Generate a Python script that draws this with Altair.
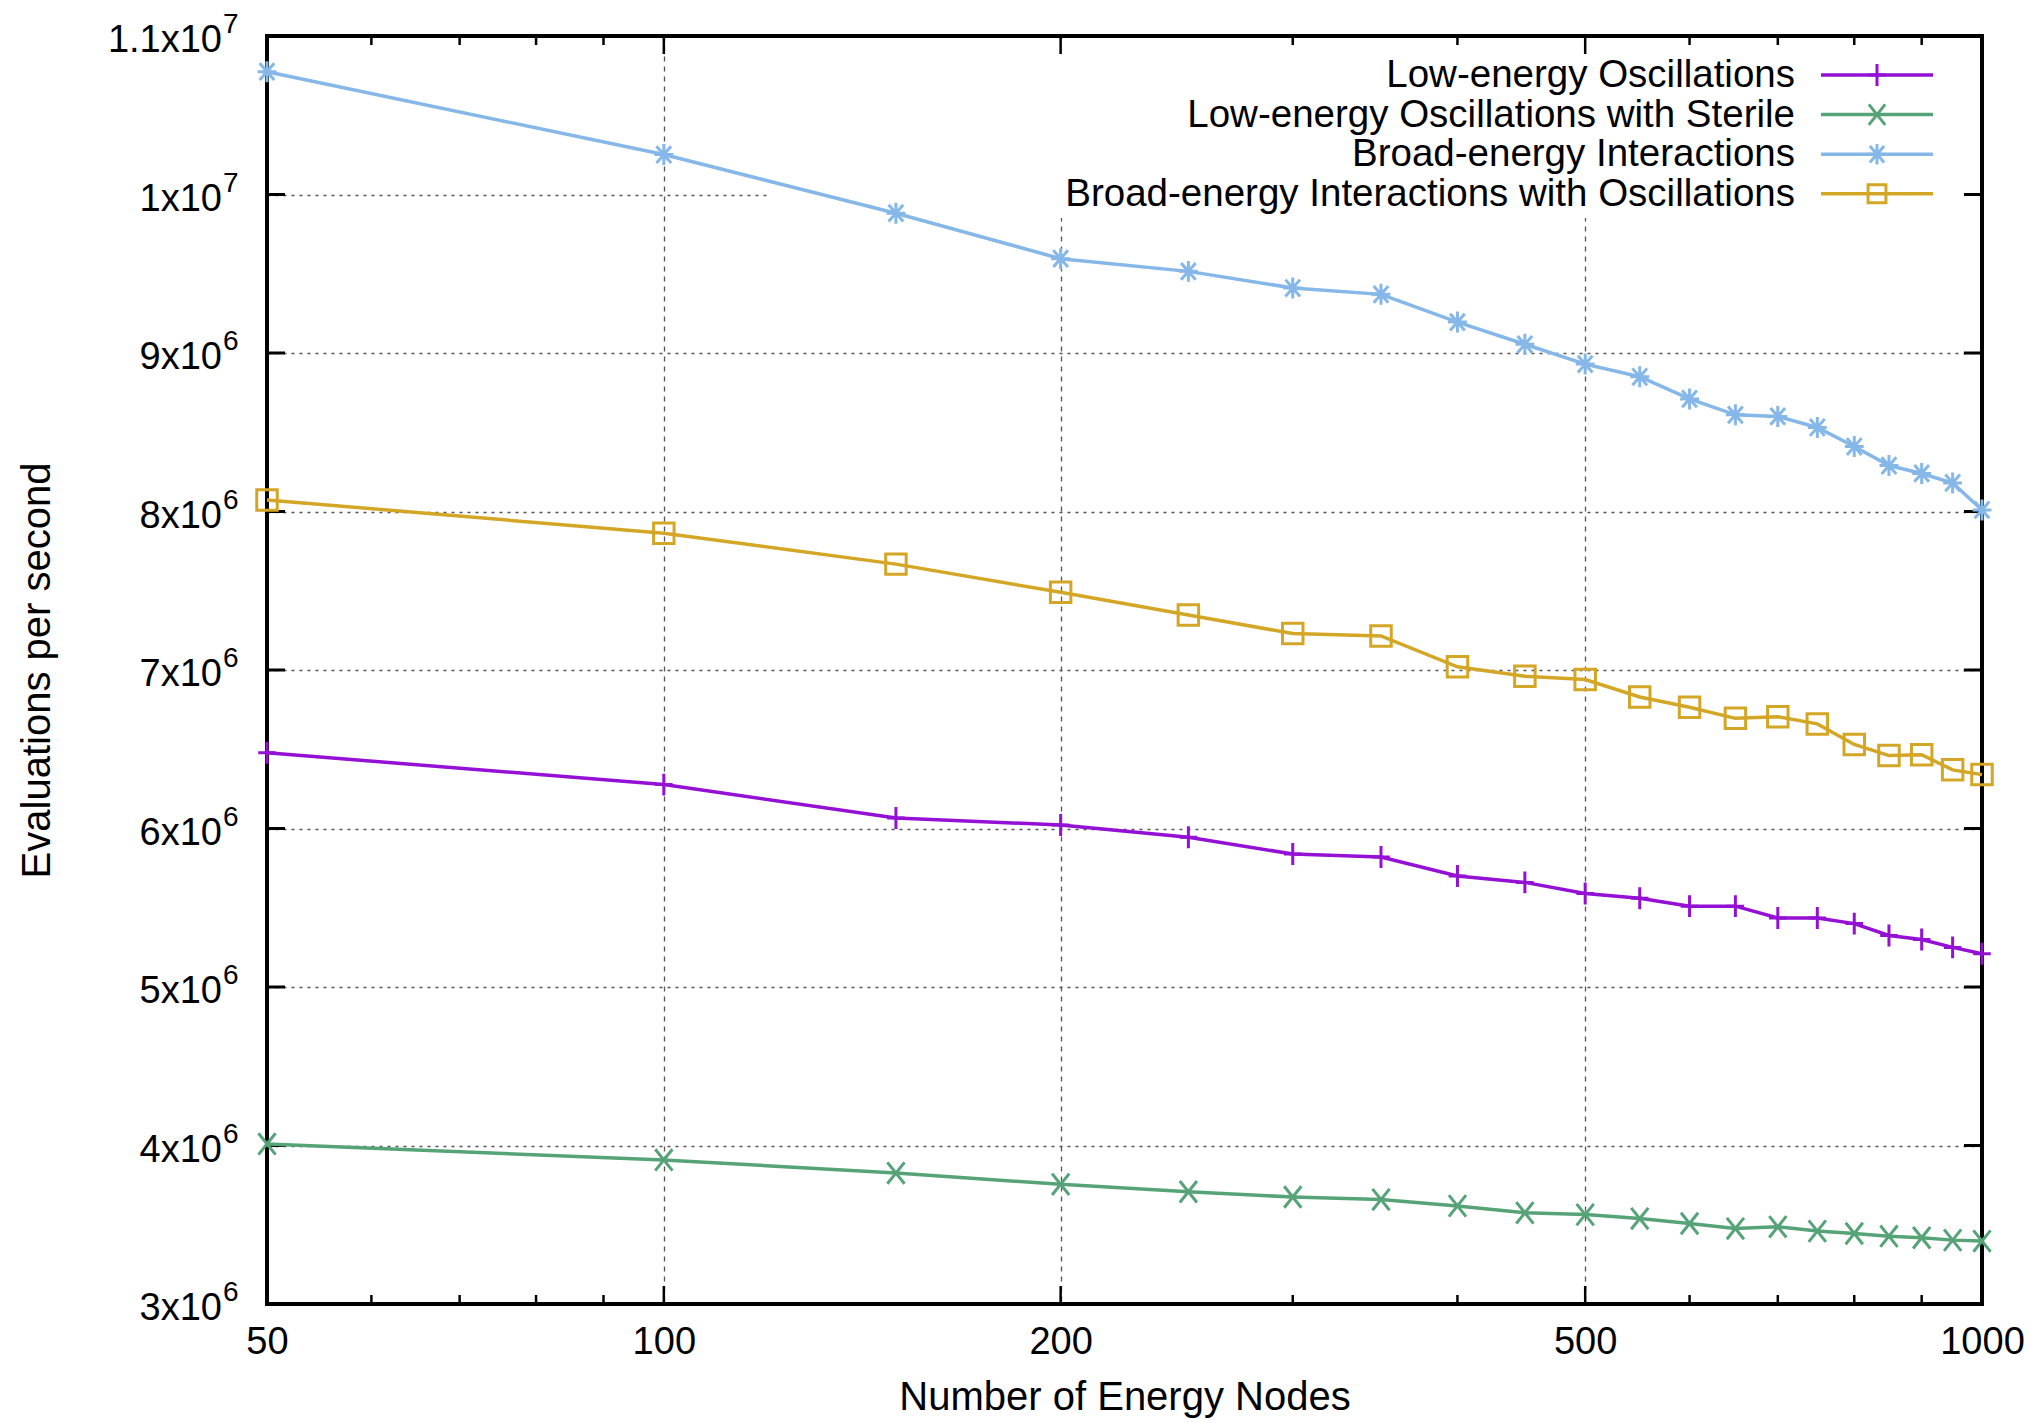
import altair as alt
import pandas as pd

# ---------------- data (values in units of 1e6 evaluations / s) ----------------
nodes = [50, 100, 150, 200, 250, 300, 350, 400, 450, 500,
         550, 600, 650, 700, 750, 800, 850, 900, 950, 1000]
low_osc = [6.478, 6.277, 6.066, 6.022, 5.945, 5.839, 5.820, 5.700, 5.660, 5.590,
           5.560, 5.510, 5.510, 5.435, 5.435, 5.400, 5.325, 5.300, 5.250, 5.210]
low_sterile = [4.010, 3.909, 3.826, 3.755, 3.708, 3.675, 3.659, 3.619, 3.575, 3.564,
               3.539, 3.508, 3.476, 3.487, 3.460, 3.445, 3.428, 3.418, 3.403, 3.397]
broad_int = [10.775, 10.252, 9.882, 9.595, 9.515, 9.410, 9.370, 9.195, 9.055, 8.930,
             8.850, 8.710, 8.610, 8.600, 8.530, 8.410, 8.290, 8.240, 8.180, 8.010]
broad_osc = [8.073, 7.863, 7.668, 7.490, 7.347, 7.230, 7.215, 7.020, 6.960, 6.940,
             6.830, 6.765, 6.695, 6.705, 6.660, 6.530, 6.460, 6.465, 6.370, 6.340]

series_names = ["Low-energy Oscillations",
                "Low-energy Oscillations with Sterile",
                "Broad-energy Interactions",
                "Broad-energy Interactions with Oscillations"]
series_values = [low_osc, low_sterile, broad_int, broad_osc]
series_colors = ["#9410d4", "#56a378", "#85b7e8", "#d4a626"]
series_shapes = ["M-0.8,0L0.8,0M0,-1L0,1",
                 "M-0.8,-1L0.8,1M-0.8,1L0.8,-1",
                 "M-0.9,0L0.9,0M0,-1L0,1M-0.7,-0.8L0.7,0.8M-0.7,0.8L0.7,-0.8",
                 "square"]
series_sizes = [480, 420, 420, 320]

x_label_values = [50, 100, 200, 500, 1000]
x_major_inner = [100, 200, 500]
x_minor = [60, 70, 80, 90, 300, 400, 600, 700, 800, 900]
y_ticks = [3e6, 4e6, 5e6, 6e6, 7e6, 8e6, 9e6, 1e7, 1.1e7]
y_tick_mantissa = ["3", "4", "5", "6", "7", "8", "9", "1", "1.1"]
y_tick_exponent = ["6", "6", "6", "6", "6", "6", "6", "7", "7"]

# ---------------- layout ----------------
W, H = 1715, 1268
FONT = "Liberation Sans, Arial, sans-serif"
FS = 38

rows = []
for name, vals in zip(series_names, series_values):
    for n, v in zip(nodes, vals):
        rows.append({"nodes": n, "value": v * 1e6, "series": name})
df = pd.DataFrame(rows)

xscale = alt.Scale(type="log", domain=[50, 1000], nice=False)
yscale = alt.Scale(domain=[3e6, 1.1e7], nice=False, zero=False)
cscale = alt.Scale(domain=series_names, range=series_colors)
sscale = alt.Scale(domain=series_names, range=series_shapes)
zscale = alt.Scale(domain=series_names, range=series_sizes)

xaxis = alt.Axis(values=x_label_values, format="d", grid=True,
                 gridDash=[5, 5], gridColor="#555555", gridWidth=1.3,
                 ticks=False, tickSize=0, domain=False,
                 labelFont=FONT, labelFontSize=FS, labelColor="black",
                 labelFlush=False, labelOverlap=False,
                 labelBaseline="middle", labelPadding=38,
                 title="Number of Energy Nodes", titleFont=FONT,
                 titleFontSize=40, titleFontWeight="normal",
                 titleColor="black", titleX=W / 2, titleY=93,
                 titleBaseline="middle", titleAlign="center")
yaxis = alt.Axis(values=y_ticks, grid=True, gridDash=[3, 5],
                 gridColor="#555555", gridWidth=1.3,
                 labels=False, ticks=False, tickSize=0, domain=False,
                 title="Evaluations per second", titleFont=FONT,
                 titleFontSize=40, titleFontWeight="normal",
                 titleColor="black", titleX=-230, titleY=H / 2,
                 titleAngle=270, titleBaseline="middle",
                 titleAlign="center")


def X(field):
    return alt.X(field, scale=xscale, axis=xaxis)


def Y(field):
    return alt.Y(field, scale=yscale, axis=yaxis)


layers = []

# axes + grid (grid drawn under everything)
layers.append(alt.Chart(df).mark_point(opacity=0).encode(
    x=X("nodes:Q"), y=Y("value:Q")))

# opaque key background (hides grid behind the key)
layers.append(alt.Chart(pd.DataFrame({"a": [0]})).mark_rect(color="white").encode(
    x=alt.value(502), x2=alt.value(W - 3), y=alt.value(3), y2=alt.value(182)))

# inner ticks
xmaj_df = pd.DataFrame({"nodes": x_major_inner})
xmin_df = pd.DataFrame({"nodes": x_minor})
for d, ln in ((xmaj_df, 18), (xmin_df, 9)):
    layers.append(alt.Chart(d).mark_rule(color="black", strokeWidth=2.5).encode(
        x=X("nodes:Q"), y=alt.value(H), y2=alt.value(H - ln)))
    layers.append(alt.Chart(d).mark_rule(color="black", strokeWidth=2.5).encode(
        x=X("nodes:Q"), y=alt.value(0), y2=alt.value(ln)))

yt_df = pd.DataFrame({"value": y_ticks,
                      "base": [m + "x10" for m in y_tick_mantissa],
                      "exp": y_tick_exponent})
layers.append(alt.Chart(yt_df).mark_rule(color="black", strokeWidth=3).encode(
    y=Y("value:Q"), x=alt.value(0), x2=alt.value(18)))
layers.append(alt.Chart(yt_df).mark_rule(color="black", strokeWidth=3).encode(
    y=Y("value:Q"), x=alt.value(W), x2=alt.value(W - 18)))

# y tick labels with superscript exponent
layers.append(alt.Chart(yt_df).mark_text(
    align="right", baseline="middle", dy=5, font=FONT, fontSize=FS,
    color="black").encode(y=Y("value:Q"), x=alt.value(-45), text="base:N"))
layers.append(alt.Chart(yt_df).mark_text(
    align="left", baseline="middle", dy=-11, font=FONT, fontSize=28,
    color="black").encode(y=Y("value:Q"), x=alt.value(-44), text="exp:N"))

# border
layers.append(alt.Chart(pd.DataFrame({"a": [0]})).mark_rect(
    fill=None, fillOpacity=0, stroke="black", strokeWidth=4).encode(
    x=alt.value(0), x2=alt.value(W), y=alt.value(0), y2=alt.value(H)))

# data lines and markers
layers.append(alt.Chart(df).mark_line(strokeWidth=3.5).encode(
    x=X("nodes:Q"), y=Y("value:Q"),
    color=alt.Color("series:N", scale=cscale, legend=None),
    detail="series:N"))
layers.append(alt.Chart(df).mark_point(filled=False, strokeWidth=3, opacity=1).encode(
    x=X("nodes:Q"), y=Y("value:Q"),
    color=alt.Color("series:N", scale=cscale, legend=None),
    shape=alt.Shape("series:N", scale=sscale, legend=None),
    size=alt.Size("series:N", scale=zscale, legend=None)))

# key (gnuplot style: text right-aligned, sample to the right)
for i, (name, col, shp, sz) in enumerate(zip(series_names, series_colors,
                                             series_shapes, series_sizes)):
    ly = 39 + 39.6 * i
    one = pd.DataFrame({"label": [name]})
    layers.append(alt.Chart(one).mark_text(
        align="right", baseline="middle", font=FONT, fontSize=38.5,
        color="black").encode(text="label:N", x=alt.value(1528), y=alt.value(ly)))
    layers.append(alt.Chart(one).mark_rule(color=col, strokeWidth=3.5).encode(
        x=alt.value(1554), x2=alt.value(1666), y=alt.value(ly)))
    layers.append(alt.Chart(one).mark_point(
        shape=shp, filled=False, size=sz, strokeWidth=3, color=col,
        opacity=1).encode(x=alt.value(1610), y=alt.value(ly)))

chart = alt.layer(*layers).properties(
    width=W, height=H,
    autosize=alt.AutoSizeParams(type="none"),
    padding={"left": 259, "top": 28, "right": 46, "bottom": 114},
    background="white",
).configure_view(stroke=None)

chart.save("out.html", embed_options={"renderer": "svg", "actions": False})
